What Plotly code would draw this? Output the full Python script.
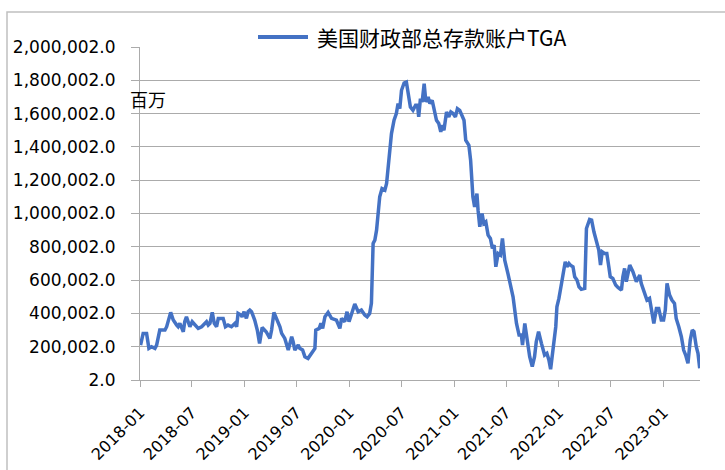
import plotly.graph_objects as go

series_name = "美国财政部总存款账户TGA"
unit_label = "百万"

dates = [
    "2018-01-03", "2018-01-12", "2018-01-24", "2018-02-01", "2018-02-10", "2018-02-22", "2018-02-28",
    "2018-03-11", "2018-03-29", "2018-04-04", "2018-04-18", "2018-04-27", "2018-05-09", "2018-05-14",
    "2018-05-20", "2018-05-26", "2018-06-01", "2018-06-06", "2018-06-12", "2018-06-18", "2018-06-24",
    "2018-07-02", "2018-07-11", "2018-07-23", "2018-08-04", "2018-08-15", "2018-08-21", "2018-08-27",
    "2018-09-02", "2018-09-10", "2018-09-17", "2018-09-25", "2018-10-01", "2018-10-10", "2018-10-18",
    "2018-10-26", "2018-11-04", "2018-11-16", "2018-11-28", "2018-12-04", "2018-12-09", "2018-12-19",
    "2018-12-23", "2018-12-30", "2019-01-07", "2019-01-13", "2019-01-19", "2019-01-25", "2019-02-05",
    "2019-02-14", "2019-02-22", "2019-03-03", "2019-03-17", "2019-03-30", "2019-04-05", "2019-04-13",
    "2019-04-22", "2019-05-04", "2019-05-10", "2019-05-21", "2019-06-02", "2019-06-14", "2019-06-19",
    "2019-06-25", "2019-07-07", "2019-07-12", "2019-07-22", "2019-07-30", "2019-08-10", "2019-08-22",
    "2019-09-03", "2019-09-06", "2019-09-18", "2019-09-24", "2019-09-30", "2019-10-08", "2019-10-19",
    "2019-10-31", "2019-11-17", "2019-11-29", "2019-12-05", "2019-12-16", "2019-12-24", "2019-12-31",
    "2020-01-09", "2020-01-20", "2020-02-01", "2020-02-12", "2020-02-24", "2020-03-03", "2020-03-12",
    "2020-03-18", "2020-03-24", "2020-03-30", "2020-04-05", "2020-04-10", "2020-04-16", "2020-04-24",
    "2020-05-04", "2020-05-10", "2020-05-15", "2020-05-21", "2020-05-27", "2020-06-05", "2020-06-13",
    "2020-06-19", "2020-06-25", "2020-07-01", "2020-07-10", "2020-07-18", "2020-07-24", "2020-08-01",
    "2020-08-10", "2020-08-19", "2020-08-26", "2020-08-30", "2020-09-05", "2020-09-11", "2020-09-18",
    "2020-09-24", "2020-10-02", "2020-10-08", "2020-10-16", "2020-10-23", "2020-10-31", "2020-11-08",
    "2020-11-15", "2020-11-19", "2020-11-26", "2020-12-05", "2020-12-13", "2020-12-20", "2020-12-28",
    "2021-01-05", "2021-01-12", "2021-01-20", "2021-01-26", "2021-02-04", "2021-02-10", "2021-02-21",
    "2021-02-27", "2021-03-04", "2021-03-07", "2021-03-13", "2021-03-21", "2021-03-25", "2021-03-31",
    "2021-04-08", "2021-04-14", "2021-04-21", "2021-04-29", "2021-05-07", "2021-05-14", "2021-05-20",
    "2021-05-26", "2021-06-03", "2021-06-11", "2021-06-18", "2021-06-26", "2021-07-07", "2021-07-19",
    "2021-07-25", "2021-08-06", "2021-08-15", "2021-08-23", "2021-08-27", "2021-09-04", "2021-09-12",
    "2021-09-21", "2021-09-30", "2021-10-08", "2021-10-14", "2021-10-22", "2021-11-01", "2021-11-12",
    "2021-11-20", "2021-11-27", "2021-12-03", "2021-12-11", "2021-12-21", "2021-12-25", "2022-01-01",
    "2022-01-10", "2022-01-18", "2022-01-23", "2022-01-29", "2022-02-05", "2022-02-10", "2022-02-19",
    "2022-02-25", "2022-03-05", "2022-03-12", "2022-03-20", "2022-04-01", "2022-04-07", "2022-04-18",
    "2022-04-25", "2022-05-03", "2022-05-12", "2022-05-20", "2022-05-26", "2022-06-01", "2022-06-09",
    "2022-06-17", "2022-06-24", "2022-06-29", "2022-07-08", "2022-07-18", "2022-07-26", "2022-08-07",
    "2022-08-12", "2022-08-18", "2022-08-24", "2022-08-30", "2022-09-05", "2022-09-16", "2022-09-28",
    "2022-10-10", "2022-10-15", "2022-10-27", "2022-11-04", "2022-11-13", "2022-11-23", "2022-11-28",
    "2022-12-07", "2022-12-15", "2022-12-24", "2023-01-01", "2023-01-07", "2023-01-13", "2023-01-22",
    "2023-01-30", "2023-02-08", "2023-02-14", "2023-02-23", "2023-03-04", "2023-03-12", "2023-03-19",
    "2023-03-27", "2023-04-04", "2023-04-11", "2023-04-17", "2023-04-25", "2023-05-01", "2023-05-07",
]

tga_values = [
    210000, 280000, 280000, 190000, 200000, 190000, 210000,
    300000, 300000, 320000, 406000, 360000, 330000, 320000,
    340000, 310000, 290000, 350000, 380000, 350000, 320000,
    350000, 330000, 310000, 320000, 340000, 350000, 330000,
    340000, 406000, 340000, 320000, 370000, 370000, 370000,
    320000, 330000, 320000, 340000, 320000, 400000, 390000,
    380000, 410000, 370000, 410000, 420000, 410000, 360000,
    300000, 220000, 315000, 290000, 250000, 300000, 406000,
    370000, 320000, 280000, 250000, 180000, 260000, 230000,
    180000, 210000, 190000, 180000, 140000, 130000, 160000,
    190000, 300000, 310000, 340000, 310000, 380000, 406000,
    370000, 360000, 310000, 370000, 350000, 410000, 350000,
    400000, 456000, 410000, 420000, 390000, 380000, 400000,
    460000, 820000, 840000, 900000, 980000, 1100000, 1150000,
    1140000, 1180000, 1280000, 1420000, 1480000, 1560000, 1600000,
    1660000, 1630000, 1740000, 1784000, 1790000, 1730000, 1640000,
    1620000, 1650000, 1650000, 1580000, 1690000, 1670000, 1780000,
    1670000, 1700000, 1660000, 1680000, 1620000, 1560000, 1540000,
    1490000, 1530000, 1500000, 1610000, 1580000, 1610000, 1600000,
    1580000, 1630000, 1620000, 1600000, 1560000, 1440000, 1410000,
    1320000, 1200000, 1100000, 1040000, 1120000, 1020000, 920000,
    1000000, 940000, 950000, 870000, 850000, 790000, 810000,
    680000, 760000, 750000, 850000, 720000, 640000, 530000,
    500000, 340000, 270000, 270000, 210000, 340000, 240000,
    140000, 80000, 140000, 230000, 290000, 220000, 150000,
    160000, 120000, 65000, 200000, 320000, 440000, 490000,
    580000, 670000, 710000, 680000, 700000, 690000, 680000,
    620000, 600000, 560000, 545000, 550000, 910000, 964000,
    960000, 890000, 830000, 780000, 690000, 770000, 760000,
    760000, 680000, 620000, 610000, 570000, 556000, 540000,
    620000, 670000, 590000, 630000, 690000, 650000, 590000,
    630000, 580000, 520000, 480000, 490000, 390000, 340000,
    430000, 430000, 360000, 360000, 420000, 580000, 510000,
    480000, 460000, 370000, 320000, 260000, 180000, 150000,
    100000, 240000, 300000, 290000, 200000, 160000, 70000,
]

y_tick_values = [2, 200002, 400002, 600002, 800002, 1000002, 1200002, 1400002, 1600002, 1800002, 2000002]
y_tick_labels = [f"{v:,.1f}" for v in y_tick_values]

line_color = "#4472C4"
grid_color = "#ababab"
font_family = "DejaVu Sans, Liberation Sans, sans-serif"
cjk_family = "Noto Sans CJK SC, sans-serif"

fig = go.Figure()
fig.add_trace(go.Scatter(
    x=dates, y=tga_values, mode="lines", name=series_name,
    line=dict(color=line_color, width=3.5),
))

L, R, T, B = 140, 25, 47, 90
W, H = 725, 470
pw, ph = W - L - R, H - T - B


def px(xp):
    return (xp - L) / pw


def py(yp):
    return 1 - (yp - T) / ph


fig.update_layout(
    width=W, height=H,
    margin=dict(l=L, r=R, t=T, b=B, pad=0, autoexpand=False),
    paper_bgcolor="white", plot_bgcolor="white",
    showlegend=False,
    font=dict(family=font_family, color="#000000"),
    xaxis=dict(
        type="date", automargin=False,
        range=["2018-01-01", "2023-05-08"],
        tick0="2018-01-01", dtick="M6", tickformat="%Y-%m",
        tickangle=-45, tickfont=dict(family=font_family, size=16, color="#000000"),
        showgrid=False, zeroline=False,
        showline=True, linecolor=grid_color, linewidth=1,
        ticks="outside", ticklen=6, tickcolor=grid_color,
        ticklabelstandoff=10,
    ),
    yaxis=dict(
        automargin=False,
        range=[2, 2000002],
        tickmode="array", tickvals=y_tick_values, ticktext=y_tick_labels,
        tickfont=dict(family=font_family, size=17, color="#000000"),
        showgrid=True, gridcolor=grid_color, gridwidth=1,
        zeroline=False,
        showline=True, linecolor=grid_color, linewidth=1,
        ticks="outside", ticklen=8, tickcolor=grid_color,
        ticklabelstandoff=12,
    ),
    annotations=[
        dict(
            text=unit_label, xref="paper", yref="paper",
            x=px(128), xanchor="left", y=py(99), yanchor="middle",
            showarrow=False, font=dict(family=cjk_family, size=18, color="#000000"),
        ),
        dict(
            text=series_name, xref="paper", yref="paper",
            x=px(315), xanchor="left", y=py(37), yanchor="middle",
            showarrow=False, font=dict(family=cjk_family, size=21, color="#000000"),
        ),
    ],
    shapes=[
        dict(
            type="rect", xref="paper", yref="paper",
            x0=px(7), x1=px(740), y0=py(490), y1=py(12),
            line=dict(color="#c0c0c0", width=1.5), fillcolor="rgba(0,0,0,0)", layer="below",
        ),
        dict(
            type="line", xref="paper", yref="paper",
            x0=px(258), x1=px(308), y0=py(37), y1=py(37),
            line=dict(color=line_color, width=4),
        ),
    ],
)

fig.write_html(
    "out.html",
    config={"displayModeBar": False},
    post_script="document.body.style.margin='0';",
)
